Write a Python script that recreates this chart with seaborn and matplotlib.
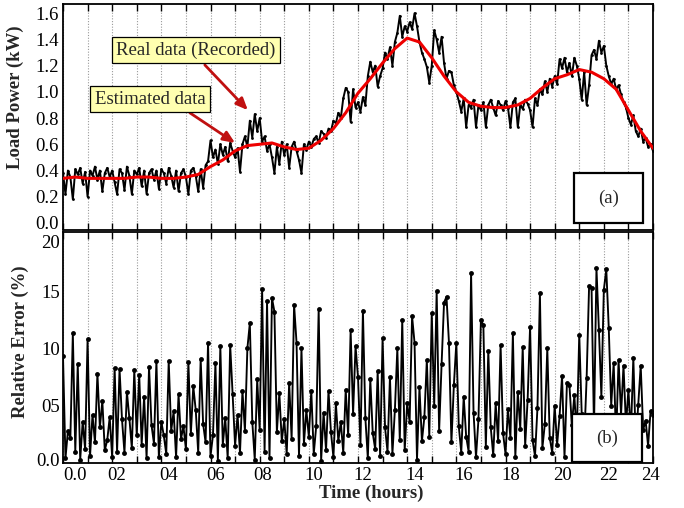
import numpy as np
import pandas as pd
import matplotlib
matplotlib.use("Agg")
import matplotlib.pyplot as plt
from matplotlib.patches import Rectangle
from matplotlib.ticker import FixedLocator, NullFormatter
import seaborn as sns

# ---------------- data ----------------
# recorded load (kW), 10 samples per hour, 0.0 h .. 24.0 h
real_load = [
    0.38, 0.22, 0.40, 0.35, 0.18, 0.41, 0.37, 0.42, 0.30, 0.39,   # 0 h
    0.20, 0.40, 0.36, 0.43, 0.33, 0.40, 0.24, 0.38, 0.42, 0.35,   # 1 h
    0.40, 0.31, 0.22, 0.41, 0.38, 0.25, 0.43, 0.36, 0.22, 0.40,   # 2 h
    0.37, 0.42, 0.28, 0.40, 0.22, 0.38, 0.41, 0.33, 0.40, 0.26,   # 3 h
    0.41, 0.38, 0.30, 0.42, 0.36, 0.27, 0.40, 0.24, 0.38, 0.41,   # 4 h
    0.35, 0.22, 0.40, 0.42, 0.36, 0.24, 0.41, 0.27, 0.44, 0.47,   # 5 h
    0.63, 0.50, 0.56, 0.45, 0.60, 0.52, 0.58, 0.47, 0.61, 0.55,   # 6 h
    0.50, 0.57, 0.39, 0.60, 0.66, 0.58, 0.78, 0.65, 0.83, 0.70,   # 7 h
    0.80, 0.62, 0.66, 0.55, 0.60, 0.50, 0.38, 0.58, 0.45, 0.62,   # 8 h
    0.52, 0.60, 0.42, 0.58, 0.62, 0.55, 0.48, 0.38, 0.60, 0.56,   # 9 h
    0.62, 0.58, 0.64, 0.66, 0.61, 0.70, 0.68, 0.65, 0.72, 0.70,   # 10 h
    0.78, 0.76, 0.84, 0.80, 0.95, 1.03, 1.00, 0.77, 1.02, 0.88,   # 11 h
    0.92, 0.85, 0.96, 0.90, 1.12, 1.23, 1.15, 1.20, 1.04, 1.12,   # 12 h
    1.18, 1.30, 1.25, 1.34, 1.20, 1.38, 1.45, 1.58, 1.42, 1.50,   # 13 h
    1.46, 1.53, 1.48, 1.60, 1.50, 1.38, 1.30, 1.25, 1.19, 1.07,   # 14 h
    1.20, 1.47, 1.40, 1.30, 1.42, 1.22, 1.10, 1.16, 1.15, 1.05,   # 15 h
    1.00, 0.93, 0.85, 0.95, 0.73, 0.90, 0.88, 0.94, 0.73, 0.90,   # 16 h
    0.86, 0.92, 0.73, 0.90, 0.94, 0.88, 0.82, 0.93, 0.90, 0.86,   # 17 h
    0.93, 0.88, 0.73, 0.92, 0.95, 0.73, 0.90, 0.87, 0.94, 0.91,   # 18 h
    0.86, 0.73, 0.95, 0.90, 1.02, 0.98, 1.08, 1.00, 1.10, 1.04,   # 19 h
    1.12, 1.06, 1.25, 1.18, 1.26, 1.15, 1.22, 1.12, 1.26, 1.20,   # 20 h
    1.10, 0.94, 1.15, 0.90, 1.05, 1.28, 1.32, 1.25, 1.39, 1.30,   # 21 h
    1.35, 1.20, 1.12, 1.06, 1.10, 1.02, 1.05, 0.98, 0.92, 0.88,   # 22 h
    0.80, 0.75, 0.82, 0.70, 0.66, 0.72, 0.62, 0.65, 0.58, 0.60,   # 23 h
    0.55,
]

# relative error (%), same sampling
rel_error = [
    9.3, 0.4, 2.8, 2.2, 11.3, 1.0, 8.6, 0.3, 3.6, 1.2,    # 0 h
    10.8, 0.6, 4.2, 1.8, 7.8, 3.1, 5.4, 1.1, 2.0, 4.0,    # 1 h
    0.5, 8.3, 1.0, 8.2, 3.8, 0.9, 6.2, 3.9, 1.3, 8.1,     # 2 h
    2.4, 7.7, 1.6, 5.8, 0.4, 8.4, 3.3, 1.7, 8.9, 0.5,     # 3 h
    3.6, 2.4, 0.8, 8.9, 2.8, 4.5, 0.5, 6.0, 2.1, 3.2,     # 4 h
    1.2, 8.8, 2.5, 6.7, 4.6, 0.9, 9.1, 3.4, 1.8, 10.5,    # 5 h
    0.6, 2.4, 8.7, 0.2, 10.2, 1.6, 3.9, 0.4, 10.3, 6.0,   # 6 h
    1.5, 4.2, 0.9, 6.3, 2.8, 10.0, 12.2, 3.6, 0.3, 7.3,   # 7 h
    2.9, 15.2, 1.0, 14.1, 0.4, 14.4, 13.2, 2.7, 6.1, 1.9, # 8 h
    3.8, 0.8, 7.0, 2.1, 13.8, 10.5, 0.6, 10.0, 1.7, 4.6,  # 9 h
    2.3, 6.3, 0.8, 3.2, 13.4, 0.2, 4.4, 1.1, 6.3, 2.7,    # 10 h
    0.5, 5.2, 1.9, 3.6, 0.9, 6.4, 2.4, 11.6, 4.3, 10.2,   # 11 h
    7.5, 1.6, 13.3, 3.9, 0.4, 7.3, 2.6, 1.2, 8.0, 0.6,    # 12 h
    10.9, 3.1, 1.0, 7.5, 0.8, 4.6, 10.0, 2.0, 12.5, 1.1,  # 13 h
    5.2, 3.6, 12.8, 10.5, 0.3, 6.6, 1.9, 4.0, 9.0, 2.3,   # 14 h
    13.1, 5.0, 15.0, 2.8, 8.6, 14.0, 14.5, 10.5, 1.8, 6.8,# 15 h
    10.5, 3.2, 0.9, 5.8, 2.3, 1.0, 16.6, 4.4, 0.5, 3.8,   # 16 h
    12.5, 12.0, 1.4, 9.8, 3.1, 0.7, 5.2, 1.9, 10.3, 2.6,  # 17 h
    0.8, 4.7, 2.2, 11.3, 0.5, 6.2, 3.0, 10.1, 1.5, 5.5,   # 18 h
    11.9, 2.0, 0.6, 4.8, 14.8, 1.3, 3.4, 10.0, 2.2, 0.9,  # 19 h
    5.0, 1.6, 4.1, 7.6, 0.5, 7.0, 6.8, 3.3, 5.9, 2.4,     # 20 h
    11.2, 4.3, 1.8, 7.4, 15.4, 15.3, 3.0, 17.0, 11.6, 5.8,# 21 h
    15.1, 16.9, 11.8, 5.0, 8.7, 2.1, 9.0, 4.2, 8.5, 3.3,  # 22 h
    6.4, 2.5, 9.2, 1.7, 5.1, 8.5, 2.9, 3.7, 1.5, 4.5,     # 23 h
    4.2,
]

# estimated load (kW), every half hour 0.0 h .. 24.0 h
est_load = [
    0.34, 0.35, 0.34, 0.34, 0.34, 0.34, 0.35, 0.35, 0.34, 0.34,
    0.35, 0.37, 0.43, 0.48, 0.55, 0.59, 0.60, 0.61, 0.58, 0.56,
    0.57, 0.63, 0.72, 0.84, 0.99, 1.10, 1.22, 1.33, 1.41, 1.38,
    1.26, 1.12, 1.00, 0.92, 0.89, 0.88, 0.88, 0.90, 0.95, 1.03,
    1.10, 1.13, 1.17, 1.15, 1.10, 1.02, 0.86, 0.70, 0.57,
]

x_tick_labels = ["0.0", "02", "04", "06", "08", "10", "12", "14",
                 "16", "18", "20", "22", "24"]
top_y_labels = ["0.0", "0.2", "0.4", "0.6", "0.8", "1.0", "1.2", "1.4", "1.6"]
bot_y_labels = ["0.0", "05", "10", "15", "20"]

t_real = np.round(np.arange(len(real_load)) * 0.1, 1)
t_est = np.arange(len(est_load)) * 0.5

df_real = pd.DataFrame({"t": t_real, "load": real_load, "err": rel_error})
df_est = pd.DataFrame({"t": t_est, "load": est_load})

# ---------------- style ----------------
sns.set_style("white")
plt.rcParams["font.family"] = ["Liberation Serif", "DejaVu Serif"]

W, H = 684, 508
fig = plt.figure(figsize=(W / 100, H / 100), dpi=100)

def frac_axes(left, top, right, bottom):
    return fig.add_axes([left / W, 1 - bottom / H, (right - left) / W, (bottom - top) / H])

ax1 = frac_axes(63, 4, 653, 229.5)
ax2 = frac_axes(63, 232, 653, 463)

grid_kw = dict(color="#9a9a9a", linestyle=(0, (1, 1.5)), linewidth=0.8)
FS = 13.5

# ---- top panel ----
sns.lineplot(data=df_real, x="t", y="load", ax=ax1, color="black", linewidth=1.4,
             marker="o", markersize=2.0, markeredgewidth=0, estimator=None, zorder=3)
sns.lineplot(data=df_est, x="t", y="load", ax=ax1, color="#ee0000", linewidth=2.2,
             estimator=None, zorder=4)
ax1.set_xlim(0, 24)
ax1.set_ylim(-0.05, 1.67)

# ---- bottom panel ----
sns.lineplot(data=df_real, x="t", y="err", ax=ax2, color="black", linewidth=1.35,
             marker="o", markersize=3.5, markeredgewidth=0, estimator=None, zorder=3)
ax2.set_xlim(0, 24)
ax2.set_ylim(0, 20.15)

for ax in (ax1, ax2):
    ax.xaxis.set_minor_locator(FixedLocator(np.arange(0, 25, 1)))
    ax.grid(False)
    ax.grid(which="minor", axis="x", **grid_kw)
    ax.tick_params(which="minor", direction="in", length=5, width=1.0,
                   top=True, bottom=True, color="black")
    ax.tick_params(which="major", length=0, labelsize=FS, colors="black")
    for sp in ax.spines.values():
        sp.set_color("black")
        sp.set_linewidth(1.3)
        sp.set_visible(True)
    ax.set_xlabel("")
    ax.set_ylabel("")

# top y ticks / grid
ax1.yaxis.set_minor_locator(FixedLocator(np.arange(0.2, 1.61, 0.2)))
ax1.grid(which="minor", axis="y", **grid_kw)
ax1.tick_params(axis="y", which="minor", length=0)
ax1.set_yticks(np.arange(0, 1.61, 0.2))
ax1.set_yticklabels(top_y_labels)
ax1.tick_params(axis="y", which="major", pad=3)
ax1.set_xticks([])
ax1.xaxis.set_minor_formatter(NullFormatter())

# bottom y ticks / grid
ax2.yaxis.set_minor_locator(FixedLocator([5, 10, 15]))
ax2.grid(which="minor", axis="y", **grid_kw)
ax2.tick_params(axis="y", which="minor", length=0)
ax2.set_yticks([0.3, 5, 10, 15, 19.3])
ax2.set_yticklabels(bot_y_labels)
ax2.tick_params(axis="y", which="major", pad=2)
ax2.set_xticks([0.5, 2.2, 4.3, 6.2, 8.1, 10.2, 12.2, 14.3, 16.3, 18.2, 20.3, 22.2, 23.9])
ax2.set_xticklabels(x_tick_labels)
ax2.tick_params(axis="x", which="major", pad=3)

# axis labels
ax1.set_ylabel("Load Power (kW)", fontsize=FS, fontweight="bold")
ax1.yaxis.set_label_coords(-0.066, 0.585)
ax2.set_ylabel("Relative Error (%)", fontsize=FS, fontweight="bold")
ax2.yaxis.set_label_coords(-0.058, 0.524)
fig.text(371 / W, 1 - 493 / H, "Time (hours)", fontsize=FS, fontweight="bold",
         ha="center", va="center")

# annotations
arrow_kw = dict(arrowstyle="-|>,head_length=0.7,head_width=0.3", color="#c01010", lw=2.0,
                shrinkA=0, shrinkB=0)
box_kw = dict(boxstyle="square,pad=0.25", facecolor="#ffffb0", edgecolor="black", linewidth=0.9)
ax1.annotate("", xy=(7.52, 0.86), xytext=(5.77, 1.205), arrowprops=arrow_kw, zorder=6)
ax1.annotate("", xy=(7.0, 0.61), xytext=(5.16, 0.84), arrowprops=arrow_kw, zorder=6)
ax1.text(5.41, 1.32, "Real data (Recorded)", fontsize=FS, ha="center", va="center",
         bbox=box_kw, zorder=7)
ax1.text(3.54, 0.945, "Estimated data", fontsize=FS, ha="center", va="center",
         bbox=box_kw, zorder=7)

# panel label boxes
ax1.add_patch(Rectangle((0.866, 0.029), 0.117, 0.221, transform=ax1.transAxes,
                        facecolor="white", edgecolor="black", linewidth=1.6, zorder=8))
ax1.text(0.9245, 0.14, "(a)", transform=ax1.transAxes, fontsize=FS,
         ha="center", va="center", zorder=9)
ax2.add_patch(Rectangle((0.863, 0.004), 0.118, 0.208, transform=ax2.transAxes,
                        facecolor="white", edgecolor="black", linewidth=1.6, zorder=8))
ax2.text(0.922, 0.108, "(b)", transform=ax2.transAxes, fontsize=FS,
         ha="center", va="center", zorder=9)

fig.savefig("out.png", dpi=100)
